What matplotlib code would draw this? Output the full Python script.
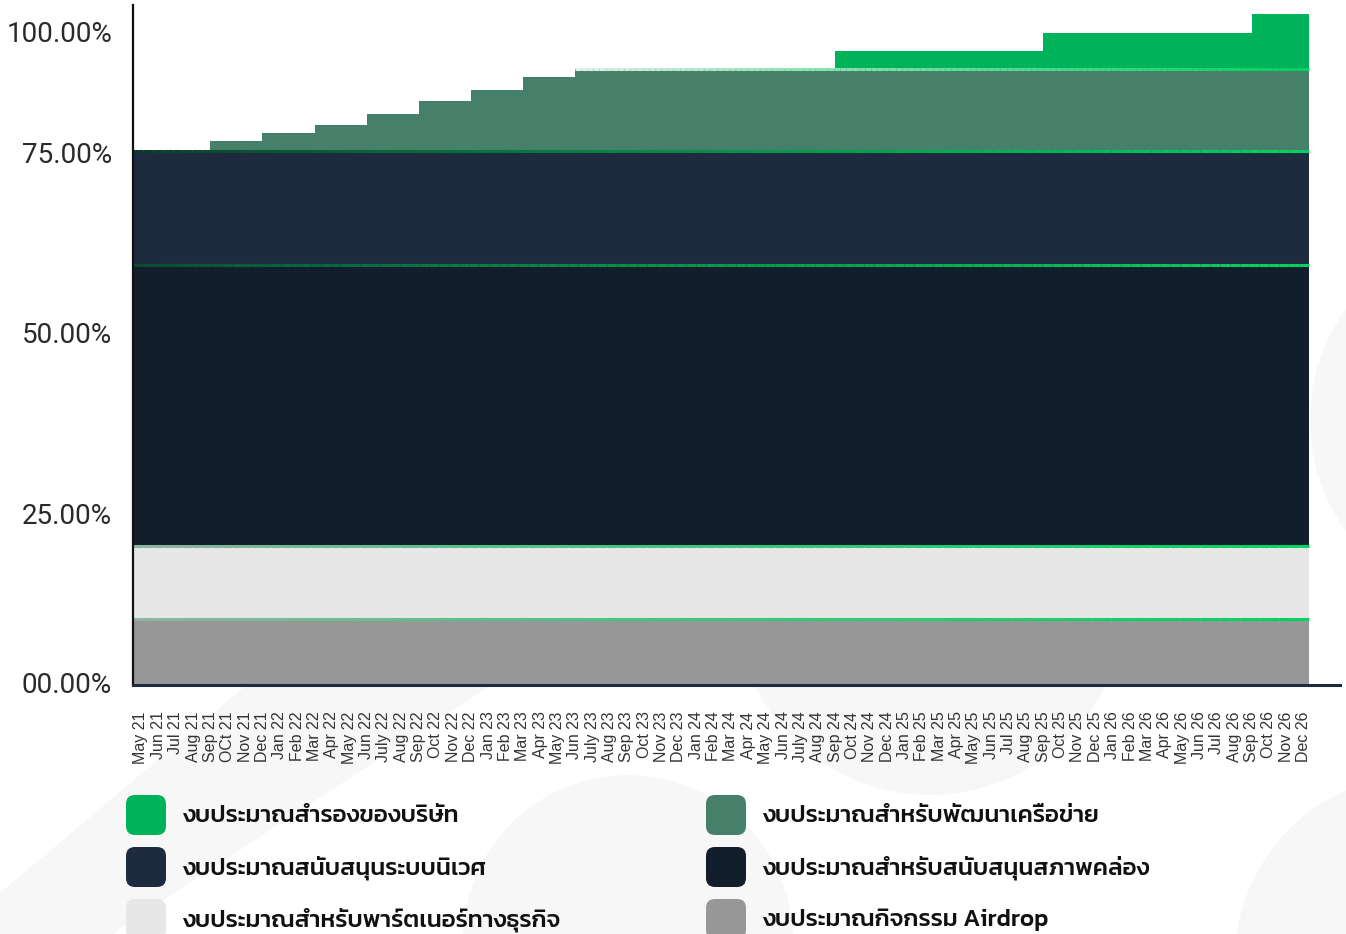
import matplotlib
matplotlib.use("Agg")
import numpy as np
import matplotlib.pyplot as plt
from matplotlib.collections import LineCollection
from matplotlib.patches import FancyBboxPatch, Circle, Polygon
from matplotlib.colors import to_rgb

# month labels, May 21 .. Dec 26
months = ["May 21", "Jun 21", "Jul 21", "Aug 21", "Sep 21", "OCt 21", "Nov 21", "Dec 21",
          "Jan 22", "Feb 22", "Mar 22", "Apr 22", "May 22", "Jun 22", "July 22", "Aug 22",
          "Sep 22", "Oct 22", "Nov 22", "Dec 22",
          "Jan 23", "Feb 23", "Mar 23", "Apr 23", "May 23", "Jun 23", "July 23", "Aug 23",
          "Sep 23", "Oct 23", "Nov 23", "Dec 23",
          "Jan 24", "Feb 24", "Mar 24", "Apr 24", "May 24", "Jun 24", "July 24", "Aug 24",
          "Sep 24", "Oct 24", "Nov 24", "Dec 24",
          "Jan 25", "Feb 25", "Mar 25", "Apr 25", "May 25", "Jun 25", "Jul 25", "Aug 25",
          "Sep 25", "Oct 25", "Nov 25", "Dec 25",
          "Jan 26", "Feb 26", "Mar 26", "Apr 26", "May 26", "Jun 26", "Jul 26", "Aug 26",
          "Sep 26", "Oct 26", "Nov 26", "Dec 26"]

# allocation per month (percent of total), bottom layer first
airdrop = [9.8] * 68
partner = [10.9] * 68
liquidity = [41.9] * 68
ecosystem = [16.9] * 68
network = ([0.0] * 4 + [1.5] * 3 + [2.7] * 3 + [3.9] * 3 + [5.5] * 3 + [7.5] * 3 +
           [9.1] * 3 + [11.0] * 3 + [12.2] * 43)
reserve = [0.0] * 40 + [2.8] * 12 + [5.5] * 12 + [8.2] * 4

names = ["งบประมาณกิจกรรม Airdrop",
         "งบประมาณสำหรับพาร์ตเนอร์ทางธุรกิจ",
         "งบประมาณสำหรับสนับสนุนสภาพคล่อง",
         "งบประมาณสนับสนุนระบบนิเวศ",
         "งบประมาณสำหรับพัฒนาเครือข่าย",
         "งบประมาณสำรองของบริษัท"]
colors = ["#979797", "#E7E7E7", "#131E2C", "#1E2B3F", "#46806A", "#00B25A"]

ytick_pos = [0.3, 25.6, 52.5, 79.4, 97.3]
ytick_lab = ["00.00%", "25.00%", "50.00%", "75.00%", "100.00%"]

thai = ["Kanit", "Prompt", "DejaVu Sans"]

fig = plt.figure(figsize=(13.46, 9.34), dpi=100)

# faint background decoration, pixel coordinates
bg = fig.add_axes([0, 0, 1, 1], zorder=-5)
bg.set_xlim(0, 1346)
bg.set_ylim(934, 0)
bg.axis("off")
deco = "#F7F7F7"
bg.add_patch(Polygon([(0, 893), (300, 640), (560, 640), (112, 934), (0, 934)], color=deco, lw=0))
bg.add_patch(Circle((628, 940), 165, color=deco, lw=0))
bg.add_patch(Circle((930, 600), 195, color=deco, lw=0))
bg.add_patch(Circle((1500, 420), 190, color=deco, lw=0))
bg.add_patch(Circle((1420, 960), 185, color=deco, lw=0))

ax = fig.add_axes([133 / 1346, 1 - 685 / 934, 1207 / 1346, 680 / 934])
ax.patch.set_alpha(0)

n = len(months)
xs = np.r_[-0.46, np.arange(1, n), 67.3]
layers = [airdrop, partner, liquidity, ecosystem, network, reserve]
base = np.zeros(n)
tops = []
for vals, col in zip(layers, colors):
    v = np.array(vals)
    top = base + v
    ax.fill_between(xs, np.r_[base, base[-1]], np.r_[top, top[-1]], step="post",
                    color=col, lw=0, zorder=2)
    tops.append(top)
    base = top


# green boundary lines fading in from the left
def fade_line(x0, x1, y, c0, c1="#00D35F", lw=2.2):
    px = np.linspace(x0, x1, 120)
    segs = [[(px[k], y), (px[k + 1], y)] for k in range(len(px) - 1)]
    a, b = np.array(to_rgb(c0)), np.array(to_rgb(c1))
    t = np.linspace(0, 1, len(segs)) ** 0.8
    cols = [tuple(a + (b - a) * tt) for tt in t]
    ax.add_collection(LineCollection(segs, colors=cols, linewidths=lw, zorder=3))


fade_line(-0.46, 67.3, tops[0][0], "#8FB4A2")
fade_line(-0.46, 67.3, tops[1][0], "#8FB4A2")
fade_line(-0.46, 67.3, tops[2][0], "#0B4A30")
fade_line(-0.46, 67.3, tops[3][0], "#0B3A28")
fade_line(25, 67.3, tops[4][-1], "#E8F0EC")

ax.set_xlim(-0.46, 69.1)
ax.set_ylim(0, 101.3)

ax.set_xticks(np.arange(n))
ax.set_xticklabels(months, rotation=90, fontsize=11.5, color="#333333",
                   family=["Liberation Sans", "DejaVu Sans"])
ax.set_yticks(ytick_pos)
ax.set_yticklabels(ytick_lab, fontsize=20, color="#2A2A2A", family="Roboto")
ax.tick_params(axis="x", length=0, pad=19)
ax.tick_params(axis="y", length=0, pad=15)

ax.spines["top"].set_visible(False)
ax.spines["right"].set_visible(False)
ax.spines["left"].set_color("#111111")
ax.spines["left"].set_linewidth(1.6)
ax.spines["bottom"].set_color("#1E2B3F")
ax.spines["bottom"].set_linewidth(2.2)
for s in ax.spines.values():
    s.set_zorder(4)

# legend, two columns, pixel coordinates
lg = fig.add_axes([0, 0, 1, 1], zorder=5)
lg.set_xlim(0, 1346)
lg.set_ylim(934, 0)
lg.axis("off")
order = [5, 4, 3, 2, 1, 0]
for k, idx in enumerate(order):
    col, row = k % 2, k // 2
    x0 = 126 + col * 580
    y0 = 795 + row * 52
    lg.add_patch(FancyBboxPatch((x0, y0), 40, 40, boxstyle="round,pad=0,rounding_size=9",
                                fc=colors[idx], ec="none"))
    lg.text(x0 + 56, y0 + 21, names[idx], fontsize=17.5, color="#111111",
            va="center", ha="left", family=thai, fontweight="medium")

fig.savefig("out.png", dpi=100)
